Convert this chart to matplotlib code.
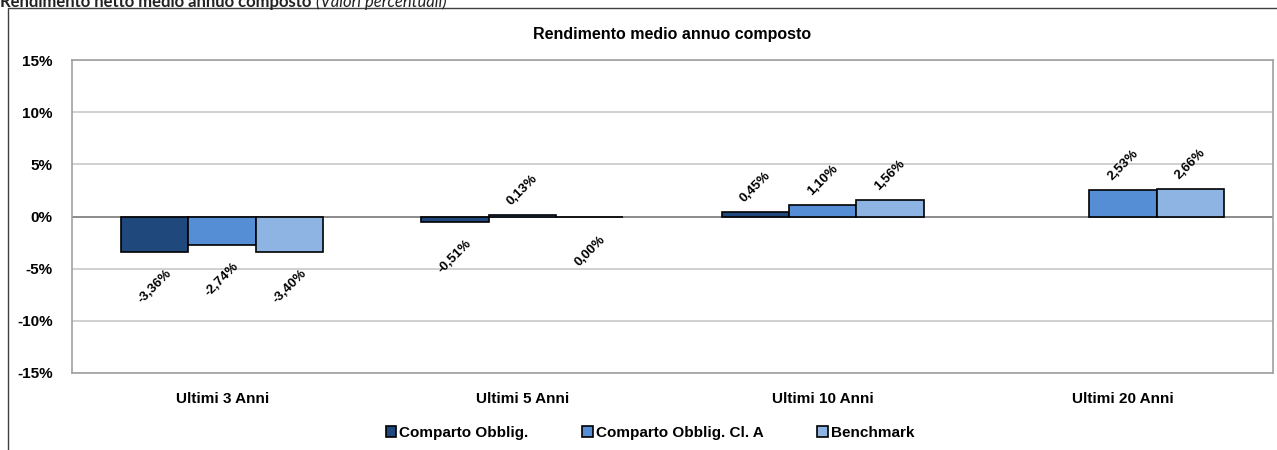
import numpy as np
import matplotlib.pyplot as plt
from matplotlib.patches import Rectangle

# Data
categories = ['Ultimi 3 Anni', 'Ultimi 5 Anni', 'Ultimi 10 Anni', 'Ultimi 20 Anni']
series_names = ['Comparto Obblig.', 'Comparto Obblig. Cl. A', 'Benchmark']
comparto = [-3.36, -0.51, 0.45, np.nan]
comparto_cl_a = [-2.74, 0.13, 1.10, 2.53]
benchmark = [-3.40, 0.00, 1.56, 2.66]
yticks = [-15, -10, -5, 0, 5, 10, 15]

colors = ['#1F497D', '#558ED5', '#8EB4E3']

plt.rcParams['font.family'] = ['Liberation Sans', 'DejaVu Sans']

W, H = 1277, 450
fig = plt.figure(figsize=(W / 100, H / 100), dpi=100)

# outer chart box (right/bottom edges fall outside the picture)
fig.patches.append(Rectangle((8 / W, -0.1), 1.2, (H - 8) / H + 0.1,
                             transform=fig.transFigure, fill=False,
                             edgecolor='#404040', linewidth=1.0))

# heading above the box, partly cut at the top like the reference
head = fig.text(0, 1 - 2 / H, 'Rendimento netto medio annuo composto',
                fontsize=12, fontweight='bold', family=['Lato', 'DejaVu Sans'],
                ha='left', va='center', color='#222222')
fig.canvas.draw()
bb = head.get_window_extent()
fig.text((bb.x1 + 5) / W, 1 - 2 / H, '(Valori percentuali)', fontsize=12, style='italic',
         family=['Lato', 'DejaVu Sans'], ha='left', va='center', color='#222222')

ax = fig.add_axes([72 / W, (H - 373) / H, (1273 - 72) / W, 313 / H])

x = np.arange(len(categories))
bw = 0.2245
for i, (vals, col) in enumerate(zip([comparto, comparto_cl_a, benchmark], colors)):
    pos = x + (i - 1) * bw
    ax.bar(pos, vals, width=bw, color=col, edgecolor='black', linewidth=1.2,
           label=series_names[i], zorder=3)
    for px, v in zip(pos, vals):
        if np.isnan(v):
            continue
        txt = f'{v:.2f}%'.replace('.', ',')
        off = 18 if v > 0 else -25
        ax.annotate(txt, (px, v), xytext=(0, off),
                    textcoords='offset points', rotation=45, ha='center', va='center',
                    fontsize=9.5, fontweight='bold')

ax.set_xlim(-0.5, 3.5)
ax.set_ylim(-15, 15)
ax.set_yticks(yticks)
ax.set_yticklabels([f'{t}%' for t in yticks], fontsize=11, fontweight='bold')
ax.set_xticks(x)
ax.set_xticklabels(categories, fontsize=11, fontweight='bold')
ax.tick_params(axis='both', length=0)
ax.tick_params(axis='y', pad=14)
ax.tick_params(axis='x', pad=14)
ax.yaxis.grid(True, color='#C8C8C8', linewidth=1.2, zorder=0)
ax.axhline(0, color='#808080', linewidth=1.2, zorder=2)
for s in ax.spines.values():
    s.set_color('#A0A0A0')
    s.set_linewidth(1.2)

ax.set_title('Rendimento medio annuo composto', fontsize=11.5, fontweight='bold', pad=15)

fig.legend(loc='center', bbox_to_anchor=(650 / W, 1 - 433 / H), ncol=3, frameon=False,
           prop={'size': 11, 'weight': 'bold'}, handlelength=0.7, handleheight=0.7,
           handletextpad=0.2, columnspacing=3.5)

fig.savefig('out.png', dpi=100)
